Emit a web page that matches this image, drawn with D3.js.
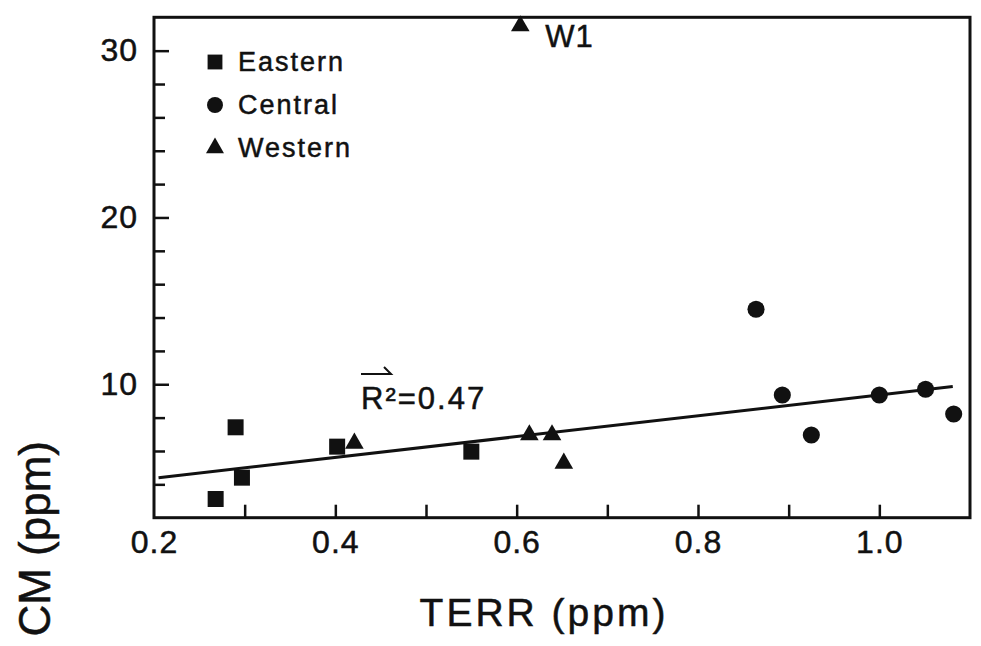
<!DOCTYPE html>
<html>
<head>
<meta charset="utf-8">
<script src="https://cdn.jsdelivr.net/npm/d3@7"></script>
<style>
  body { margin: 0; background: #fff; }
  svg text { font-family: "Liberation Sans", Arial, sans-serif; fill: #111; stroke: #111; stroke-width: 0.5px; }
</style>
</head>
<body>
<svg id="chart" width="981" height="646"></svg>
<script>
// Data (TERR ppm vs CM ppm)
const eastern = [
  [0.268, 3.12], [0.290, 7.42], [0.297, 4.40], [0.402, 6.26], [0.550, 5.96]
];
const central = [
  [0.864, 14.5], [0.893, 9.36], [0.925, 6.96], [1.000, 9.36], [1.051, 9.70], [1.082, 8.22]
];
const western = [
  [0.421, 6.46], [0.614, 6.96], [0.639, 6.96], [0.652, 5.26], [0.604, 31.48]
];
const fitLine = [[0.205, 4.40], [1.081, 9.86]];
const xTickValues = [0.3, 0.4, 0.5, 0.6, 0.7, 0.8, 0.9, 1.0];
const xLabelValues = [0.2, 0.4, 0.6, 0.8, 1.0];
const yLabelValues = [10, 20, 30];
const yMinorValues = [4, 6, 8, 12, 14, 16, 18, 22, 24, 26, 28];
const legendItems = ["Eastern", "Central", "Western"];

const svg = d3.select("#chart");

// Scales
const x = d3.scaleLinear().domain([0.2, 1.1]).range([154, 970]);
const y = d3.scaleLinear().domain([2, 32]).range([517.7, 17.3]);

const plotLeft = x.range()[0], plotRight = x.range()[1];
const plotBottom = y.range()[0], plotTop = y.range()[1];

// X axis: inward ticks, then labels
svg.append("g")
  .attr("transform", `translate(0,${plotBottom})`)
  .call(d3.axisBottom(x).tickValues(xTickValues).tickSize(-13).tickFormat(""))
  .call(g => g.select(".domain").remove())
  .selectAll(".tick line").attr("stroke", "#111").attr("stroke-width", 2.5);

svg.append("g")
  .attr("transform", `translate(0,${plotBottom})`)
  .call(d3.axisBottom(x).tickValues(xLabelValues).tickSize(0).tickPadding(13).tickFormat(d3.format(".1f")))
  .call(g => g.select(".domain").remove())
  .selectAll("text").attr("font-size", 32).style("letter-spacing", "1px");

// Y axis: major + minor inward ticks, labels
svg.append("g")
  .attr("transform", `translate(${plotLeft},0)`)
  .call(d3.axisLeft(y).tickValues(yMinorValues).tickSize(-11).tickFormat(""))
  .call(g => g.select(".domain").remove())
  .selectAll(".tick line").attr("stroke", "#111").attr("stroke-width", 2.5);

svg.append("g")
  .attr("transform", `translate(${plotLeft},0)`)
  .call(d3.axisLeft(y).tickValues(yLabelValues).tickSize(-15).tickPadding(16))
  .call(g => g.select(".domain").remove())
  .call(g => g.selectAll(".tick line").attr("stroke", "#111").attr("stroke-width", 2.5))
  .selectAll("text").attr("font-size", 32).style("letter-spacing", "1px");

// Frame
svg.append("rect")
  .attr("x", plotLeft).attr("y", plotTop)
  .attr("width", plotRight - plotLeft).attr("height", plotBottom - plotTop)
  .attr("fill", "none").attr("stroke", "#111").attr("stroke-width", 3);

// Regression line
svg.append("path")
  .datum(fitLine)
  .attr("d", d3.line().x(d => x(d[0])).y(d => y(d[1])))
  .attr("fill", "none").attr("stroke", "#111").attr("stroke-width", 3);

// Points
const symbols = {
  Eastern: d3.symbol().type(d3.symbolSquare).size(256),
  Central: d3.symbol().type(d3.symbolCircle).size(230),
  Western: d3.symbol().type(d3.symbolTriangle).size(150)
};
const groups = [["Eastern", eastern], ["Central", central], ["Western", western]];
groups.forEach(([name, pts]) => {
  svg.append("g").selectAll("path")
    .data(pts)
    .enter()
    .append("path")
    .attr("d", symbols[name])
    .attr("transform", d => `translate(${x(d[0])},${y(d[1])})`)
    .attr("fill", "#111");
});

// W1 label next to the outlier
const w1 = western[4];
svg.append("text")
  .attr("x", x(w1[0]) + 25).attr("y", y(w1[1]) + 21)
  .attr("font-size", 31).style("letter-spacing", "1px")
  .text("W1");

// R² annotation
svg.append("text")
  .attr("x", 361).attr("y", 409)
  .attr("font-size", 31).style("letter-spacing", "2px")
  .text("R²=0.47");
svg.append("path")
  .attr("d", "M361,374 L391,374 L384,367")
  .attr("fill", "none").attr("stroke", "#111").attr("stroke-width", 2);

// Legend
const legendSymbols = {
  Eastern: d3.symbol().type(d3.symbolSquare).size(220),
  Central: d3.symbol().type(d3.symbolCircle).size(200),
  Western: d3.symbol().type(d3.symbolTriangle).size(140)
};
const legend = svg.selectAll(".legend")
  .data(legendItems)
  .enter()
  .append("g")
  .attr("class", "legend")
  .attr("transform", (d, i) => `translate(215, ${62 + i * 43})`);

legend.append("path")
  .attr("d", d => legendSymbols[d]())
  .attr("fill", "#111");

legend.append("text")
  .attr("x", 23).attr("y", 9)
  .attr("font-size", 27).style("letter-spacing", "2px")
  .text(d => d);

// Axis titles
svg.append("text")
  .attr("x", 544).attr("y", 626)
  .attr("text-anchor", "middle")
  .attr("font-size", 39).style("letter-spacing", "3px")
  .text("TERR (ppm)");

svg.append("text")
  .attr("transform", "translate(50,441) rotate(-90)")
  .attr("text-anchor", "end")
  .attr("font-size", 44)
  .text("CM (ppm)");
</script>
</body>
</html>
